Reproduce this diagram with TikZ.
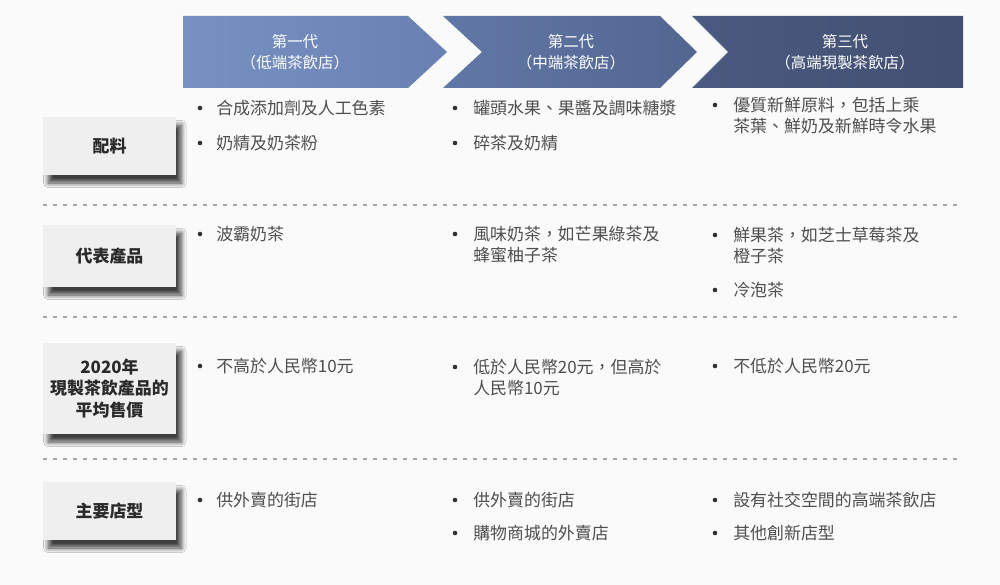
\documentclass[tikz,border=0pt]{standalone}
\usepackage{fontspec}
\usepackage{tikz}
\usetikzlibrary{shadows.blur}
\newfontfamily\cjk{Noto Sans CJK TC}
\definecolor{bgc}{HTML}{FAFAFB}
\definecolor{gAl}{HTML}{7891C3}
\definecolor{gAr}{HTML}{6981B2}
\definecolor{gBl}{HTML}{6177A6}
\definecolor{gBr}{HTML}{526690}
\definecolor{gCl}{HTML}{4A5A80}
\definecolor{gCr}{HTML}{434F72}
\definecolor{boxf}{HTML}{EFEFF0}
\definecolor{lblt}{HTML}{2A2A2A}
\definecolor{itmt}{HTML}{4E4E4E}
\definecolor{bulc}{HTML}{303030}
\definecolor{sepc}{HTML}{A5A5A8}

\begin{document}
\begin{tikzpicture}[x=0.75pt,y=-0.75pt,
  lbl/.style={fill=boxf, minimum width=99.75pt, inner sep=0pt, align=center, text=lblt,
    font=\cjk\bfseries\fontsize{12.7}{16}\selectfont,
    blur shadow={shadow xshift=4pt, shadow yshift=-6pt, shadow blur radius=3.5pt, shadow blur steps=12, shadow opacity=75}},
  itm/.style={anchor=base west, inner sep=0pt, align=left, text=itmt, font=\cjk\fontsize{12.7}{15.75}\selectfont},
  hdr/.style={align=center, text=white, inner sep=0pt, font=\cjk\fontsize{11.6}{15.75}\selectfont},
  sep/.style={draw=sepc, line width=0.8pt, dash pattern=on 3pt off 4.5pt}]

\fill[bgc] (0,0) rectangle (1000,585);
\useasboundingbox (0,0) rectangle (1000,585);

% header chevrons
\shade[left color=gAl, right color=gAr] (183,16) -- (408,16) -- (447,52) -- (408,88) -- (183,88) -- cycle;
\shade[left color=gBl, right color=gBr] (443,16) -- (660,16) -- (697,52) -- (660,88) -- (443,88) -- (482,52) -- cycle;
\shade[left color=gCl, right color=gCr] (692,16) -- (963,16) -- (963,88) -- (692,88) -- (728,52) -- cycle;
\node[hdr] (gen1) at (295,52) {第一代\\（低端茶飲店）};
\node[hdr] (gen2) at (571,52) {第二代\\（中端茶飲店）};
\node[hdr] (gen3) at (845,52) {第三代\\（高端現製茶飲店）};

% row labels
\node[lbl, minimum height=43.5pt] (ingr) at (109.5,146) {配料};
\node[lbl, minimum height=46.5pt] (prod) at (109.5,256) {代表產品};
\node[lbl, minimum height=68.25pt] (price) at (109.5,388.5) {2020年\\現製茶飲產品的\\平均售價};
\node[lbl, minimum height=43.5pt] (store) at (109.5,511) {主要店型};

% separators
\foreach \y in {205,317,459}
  \draw[sep] (43,\y) -- (963,\y);

% bullets
\foreach \p in {(200,108),(200,143),(455,108),(455,143),(715,105),
                (200,234),(455,234),(715,235),(715,290),
                (200,366),(455,367),(715,366),
                (200,500),(455,500),(455,533),(715,500),(715,533)}
  \fill[bulc] \p circle (2.3);

% first generation
\node[itm] (ingr1a) at (216,114.5) {合成添加劑及人工色素};
\node[itm] (ingr1b) at (216,149.5) {奶精及奶茶粉};
\node[itm] (prod1a) at (216,240.5) {波霸奶茶};
\node[itm] (price1a) at (216,372.5) {不高於人民幣10元};
\node[itm] (store1a) at (216,506.5) {供外賣的街店};

% second generation
\node[itm] (ingr2a) at (473,114.5) {罐頭水果、果醬及調味糖漿};
\node[itm] (ingr2b) at (473,149.5) {碎茶及奶精};
\node[itm] (prod2a) at (473,261.5) {風味奶茶，如芒果綠茶及\\蜂蜜柚子茶};
\node[itm] (price2a) at (473,394.5) {低於人民幣20元，但高於\\人民幣10元};
\node[itm] (store2a) at (473,506.5) {供外賣的街店};
\node[itm] (store2b) at (473,539.5) {購物商城的外賣店};

% third generation
\node[itm] (ingr3a) at (733,132.5) {優質新鮮原料，包括上乘\\茶葉、鮮奶及新鮮時令水果};
\node[itm] (prod3a) at (733,262.5) {鮮果茶，如芝士草莓茶及\\橙子茶};
\node[itm] (prod3b) at (733,296.5) {冷泡茶};
\node[itm] (price3a) at (733,372.5) {不低於人民幣20元};
\node[itm] (store3a) at (733,506.5) {設有社交空間的高端茶飲店};
\node[itm] (store3b) at (733,539.5) {其他創新店型};
\end{tikzpicture}
\end{document}
